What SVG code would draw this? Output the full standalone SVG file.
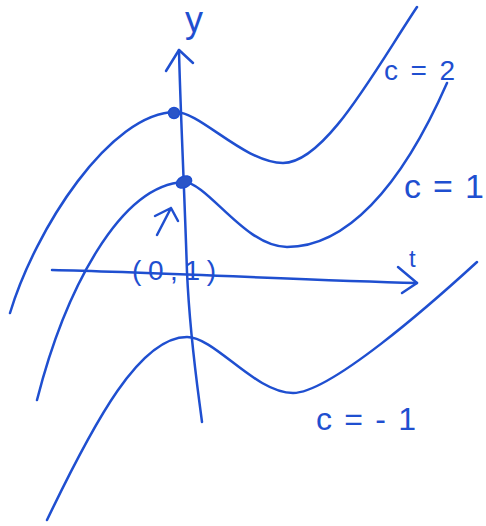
<svg xmlns="http://www.w3.org/2000/svg" width="486" height="526" viewBox="0 0 486 526">
<style>
.ln{fill:none;stroke:#1f4fd0;stroke-width:2.5;stroke-linecap:round;stroke-linejoin:round}
.tx{fill:#1f4fd0;font-family:"Liberation Sans",Arial,sans-serif}
.dot{fill:#2a55c8;stroke:#1f4fd0;stroke-width:1.5}
</style>
<rect width="486" height="526" fill="#ffffff"/>
<g id="axes">
<path id="y-axis" class="ln" d="M179,50 C180,100 184,180 187,272 C190,340 198,390 202,422"/>
<path class="ln" d="M166,71 L179,50 L193,63"/>
<path id="t-axis" class="ln" d="M52,270 C150,272 300,280 417,283"/>
<path class="ln" d="M398,267 L417,283 L402,293"/>
</g>
<g id="curves">
<path id="curve-c2" class="ln" d="M10,313 C35,230 110,112 176,112 C200,112 245,163 283,163 C325,163 375,70 417,7"/>
<path id="curve-c1" class="ln" d="M37,400 C65,290 120,185 184,182 C208,183 245,247 287,247 C345,247 400,190 447,83"/>
<path id="curve-cm1" class="ln" d="M47,520 C95,420 140,337 187,337 C215,337 255,393 293,393 C330,393 430,305 477,262"/>
</g>
<g id="point-c2"><circle class="dot" cx="174" cy="113" r="5.5"/></g>
<g id="point-01"><ellipse class="dot" cx="184" cy="182" rx="8" ry="5.5" transform="rotate(-25 184 182)"/></g>
<g id="pointer"><path class="ln" d="M157,235 L171,208 M155,216 L171,208 L178,221"/></g>
<g id="labels">
<text class="tx" x="185" y="32" font-size="36">y</text>
<text class="tx" x="409" y="267" font-size="24">t</text>
<text class="tx" x="132" y="280" font-size="28" textLength="84" lengthAdjust="spacing">(0,1)</text>
<text class="tx" x="384" y="80" font-size="28" textLength="71" lengthAdjust="spacing">c=2</text>
<text class="tx" x="404" y="198" font-size="34" textLength="80" lengthAdjust="spacing">c=1</text>
<text class="tx" x="316" y="430" font-size="32" textLength="100" lengthAdjust="spacing">c=-1</text>
</g>
</svg>
